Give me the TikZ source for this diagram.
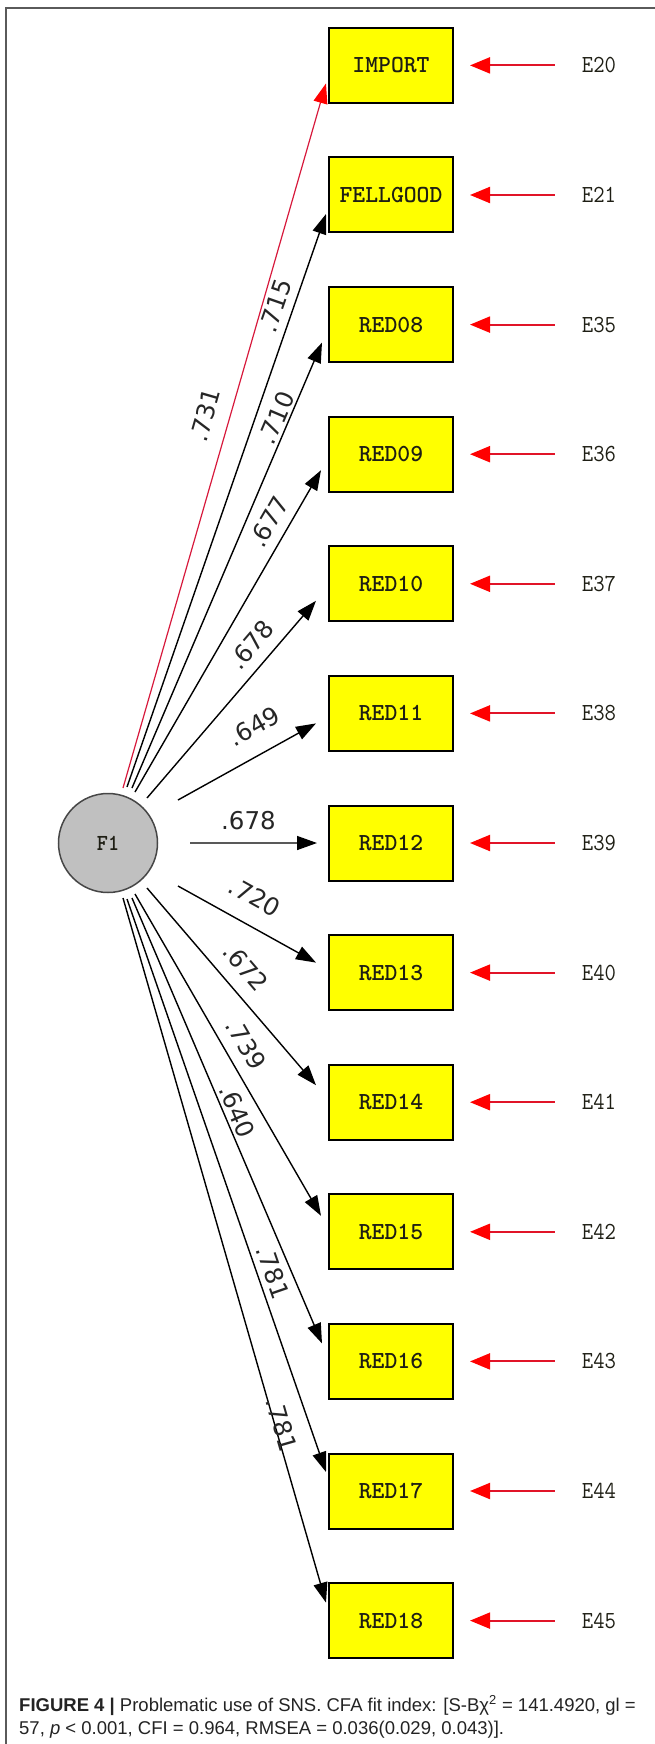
\documentclass[tikz,border=0pt]{standalone}
\usepackage{graphicx}
\usepackage{fontspec}
\setmainfont{Liberation Sans}
\newfontfamily\labfont{DejaVu Sans}
\usetikzlibrary{arrows.meta,calc}
\definecolor{boxyellow}{RGB}{255,255,0}
\definecolor{fgray}{RGB}{192,192,192}
\definecolor{fborder}{RGB}{70,70,70}
\definecolor{lred}{RGB}{215,25,60}
\definecolor{ered}{RGB}{225,20,40}
\definecolor{capgray}{RGB}{35,35,35}
\definecolor{framegray}{RGB}{90,90,90}
\definecolor{txtdark}{RGB}{30,30,20}
\tikzset{
  obs/.style={draw=black, line width=2pt, fill=boxyellow, minimum width=124pt, minimum height=75pt, inner sep=0pt, text=txtdark, font=\ttfamily\bfseries\fontsize{24.5}{26}\selectfont},
  latent/.style={circle, draw=fborder, line width=1.5pt, fill=fgray, minimum size=99pt, inner sep=0pt, text=txtdark, font=\ttfamily\bfseries\fontsize{23}{25}\selectfont},
  elab/.style={inner sep=0pt, text=txtdark, font=\ttfamily\fontsize{24.5}{26}\selectfont},
  lab/.style={inner sep=0pt, sloped, text=black!85, font=\labfont\fontsize{24.5}{26}\selectfont},
  blk/.style={line width=1.4pt, -{Triangle[length=20pt,width=14pt]}},
  redl/.style={draw=lred, line width=1.2pt, -{Triangle[length=20pt,width=14pt,color=red]}},
  earrow/.style={draw=ered, line width=2pt, -{Triangle[length=20pt,width=16pt,color=red]}},
  framel/.style={draw=framegray, line width=1.5pt},
  captext/.style={anchor=base west, inner sep=0pt, text=capgray, font=\fontsize{18.5}{22}\selectfont}
}
\begin{document}
\begin{tikzpicture}[x=1pt,y=-1pt]
\useasboundingbox (0,0) rectangle (655,1744);
\draw[framel] (6,1744) -- (6,8) -- (655,8);

\node[latent] (f1) at (108,843) {\scalebox{0.92}[1]{F1}};

\foreach \nm/\en [count=\i from 0] in {IMPORT/E20,FELLGOOD/E21,RED08/E35,RED09/E36,RED10/E37,RED11/E38,RED12/E39,RED13/E40,RED14/E41,RED15/E42,RED16/E43,RED17/E44,RED18/E45}{
  \pgfmathsetmacro\yy{65.4+129.6*\i}
  \node[obs] (b\i) at (391,\yy) {\nm};
  \node[elab] (e\i) at (599,\yy) {\scalebox{0.9}[1]{\en}};
  \draw[earrow] ([xshift=-27pt]e\i.west) -- ([xshift=16pt]b\i.east);
}

% start points near F1
\coordinate (s0) at ($(f1)+(15,-55)$);
\coordinate (s1) at ($(f1)+(19,-56)$);
\coordinate (s2) at ($(f1)+(24,-55)$);
\coordinate (s3) at ($(f1)+(27,-51)$);
\coordinate (s4) at ($(f1)+(39,-45)$);
\coordinate (s5) at ($(f1)+(70,-43)$);
\coordinate (s6) at ($(f1)+(82,0)$);
\coordinate (s7) at ($(f1)+(70,43)$);
\coordinate (s8) at ($(f1)+(39,45)$);
\coordinate (s9) at ($(f1)+(27,51)$);
\coordinate (s10) at ($(f1)+(24,55)$);
\coordinate (s11) at ($(f1)+(19,56)$);
\coordinate (s12) at ($(f1)+(15,55)$);
% arrow tips near boxes
\coordinate (t0) at ([shift={(-2,18)}]b0.west);
\coordinate (t1) at ([shift={(-2,19)}]b1.west);
\coordinate (t2) at ([shift={(-6,18)}]b2.west);
\coordinate (t3) at ([shift={(-7,16)}]b3.west);
\coordinate (t4) at ([shift={(-12,17)}]b4.west);
\coordinate (t5) at ([shift={(-12,10)}]b5.west);
\coordinate (t6) at ([shift={(-11,0)}]b6.west);
\coordinate (t7) at ([shift={(-12,-10)}]b7.west);
\coordinate (t8) at ([shift={(-12,-17)}]b8.west);
\coordinate (t9) at ([shift={(-7,-16)}]b9.west);
\coordinate (t10) at ([shift={(-6,-18)}]b10.west);
\coordinate (t11) at ([shift={(-2,-19)}]b11.west);
\coordinate (t12) at ([shift={(-2,-18)}]b12.west);

\draw[redl] (s0) -- node[lab,pos=0.52,above=14.5pt] {.731} (t0);
\draw[blk] (s1) -- node[lab,pos=0.83,above=7.5pt] {.715} (t1);
\draw[blk] (s2) -- node[lab,pos=0.82,above=2.4pt] {.710} (t2);
\draw[blk] (s3) -- node[lab,pos=0.81,above=9.3pt] {.677} (t3);
\draw[blk] (s4) -- node[lab,pos=0.71,above=10.7pt] {.678} (t4);
\draw[blk] (s5) -- node[lab,pos=0.65,above=17.5pt] {.649} (t5);
\draw[blk] (s6) -- node[lab,pos=0.46,above=12pt] {.678} (t6);
\draw[blk] (s7) -- node[lab,pos=0.46,above=17.8pt] {.720} (t7);
\draw[blk] (s8) -- node[lab,pos=0.48,above=13.7pt] {.672} (t8);
\draw[blk] (s9) -- node[lab,pos=0.50,above=11.2pt] {.739} (t9);
\draw[blk] (s10) -- node[lab,pos=0.49,above=2.9pt] {.640} (t10);
\draw[blk] (s11) -- node[lab,pos=0.66,above=5.7pt] {.781} (t11);
\draw[blk] (s12) -- node[lab,pos=0.75,above=-3.2pt] {.781} (t12);

\node[captext] (cap1) at (19,1711) {\textbf{FIGURE 4 |} Problematic use of SNS. CFA fit index: [S-Bχ\textsuperscript{2} = 141.4920, gl =};
\node[captext] (cap2) at (19,1734) {57, \textit{p} < 0.001, CFI = 0.964, RMSEA = 0.036(0.029, 0.043)].};
\end{tikzpicture}
\end{document}
